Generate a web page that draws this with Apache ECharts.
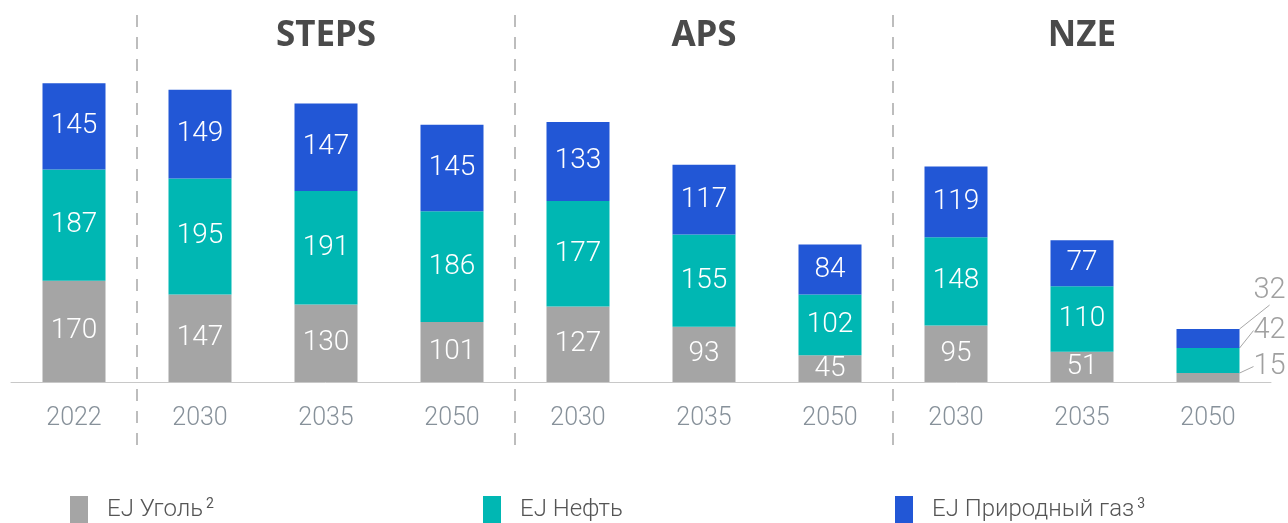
<!DOCTYPE html>
<html>
<head>
<meta charset="utf-8">
<script src="https://cdn.jsdelivr.net/npm/echarts@6/dist/echarts.min.js"></script>
<style>
    html, body { margin: 0; padding: 0; background: #fff; }
    #myChart { width: 1288px; height: 523px; }
</style>
</head>
<body>
<div id="myChart"></div>
<script>
// 数据
var years = ['2022', '2030', '2035', '2050', '2030', '2035', '2050', '2030', '2035', '2050'];
var headers = ['', '', 'STEPS', '', '', 'APS', '', '', 'NZE', '', ''];
var coal = [170, 147, 130, 101, 127, 93, 45, 95, 51, 15];
var oil = [187, 195, 191, 186, 177, 155, 102, 148, 110, 42];
var gas = [145, 149, 147, 145, 133, 117, 84, 119, 77, 32];
var names = ['EJ Уголь', 'EJ Нефть', 'EJ Природный газ'];
var notes = {'EJ Уголь': '2', 'EJ Нефть': '', 'EJ Природный газ': '3'};

var colors = ['#a5a5a5', '#00b7b3', '#2257d6'];
var font = 'Roboto, "Noto Sans", sans-serif';

// 最后一根柱子太矮，标签放到右边
function buildData(arr) {
    return arr.map(function (v, i) {
        if (i === arr.length - 1) {
            return {
                value: v,
                label: {position: 'right', distance: 14, color: '#a0a0a0', fontSize: 29},
                labelLine: {show: true, lineStyle: {color: '#a8a8a8', width: 1}}
            };
        }
        return v;
    });
}

function makeLayout(dy) {
    return function (params) {
        if (params.dataIndex === years.length - 1) {
            return {dy: dy};
        }
        return {};
    };
}

function makeSeries(name, arr, color, dy) {
    return {
        name: name,
        type: 'bar',
        stack: 'total',
        barWidth: 63,
        xAxisIndex: 0,
        yAxisIndex: 0,
        data: buildData(arr),
        itemStyle: {color: color},
        label: {
            show: true,
            position: 'inside',
            color: '#fff',
            fontSize: 28,
            fontFamily: font,
            fontWeight: 300
        },
        labelLayout: makeLayout(dy),
        emphasis: {disabled: true},
        animation: false
    };
}

var myChart = echarts.init(document.getElementById('myChart'));

function legendItem(name, left) {
    return {
        data: [name],
        left: left,
        bottom: -6,
        itemWidth: 18,
        itemHeight: 28,
        icon: 'rect',
        selectedMode: false,
        formatter: function (n) {
            return '{t|' + n + '}' + (notes[n] ? '{s|' + notes[n] + '}' : '');
        },
        textStyle: {
            padding: [0, 0, 0, 14],
            rich: {
                t: {fontSize: 24, color: '#555', fontFamily: font, fontWeight: 300, letterSpacing: 0.8},
                s: {fontSize: 14, color: '#555', fontFamily: font, verticalAlign: 'top', padding: [0, 0, 12, 3]}
            }
        }
    };
}

var option = {
    backgroundColor: '#fff',
    legend: [
        legendItem(names[0], 65),
        legendItem(names[1], 478),
        legendItem(names[2], 890)
    ],
    grid: [{
        left: 11,
        right: 17,
        top: 10,
        bottom: 141,
        outerBoundsMode: 'none'
    }, {  // 分隔线与标题，多一个类目把最右边的线推到画面外
        left: 11,
        width: 1386,
        top: 15,
        bottom: 73,
        outerBoundsMode: 'none'
    }],
    xAxis: [{
        type: 'category',
        data: years,
        gridIndex: 0,
        axisLine: {lineStyle: {color: '#c8c8c8', width: 1}},
        axisTick: {show: false},
        axisLabel: {
            interval: 0,
            margin: 24,
            fontSize: 25,
            color: '#87919a',
            fontFamily: font,
            fontWeight: 300,
            letterSpacing: 1
        }
    }, {
        type: 'category',
        data: headers.map(function (h, i) { return 'c' + i; }),
        gridIndex: 1,
        position: 'top',
        axisLine: {show: false},
        axisTick: {show: false},
        axisLabel: {
            inside: true,
            interval: 0,
            margin: 4,
            fontSize: 35,
            fontWeight: 'bold',
            color: '#4a4a4a',
            fontFamily: '"Noto Sans", Lato, sans-serif',
            formatter: function (v, i) { return headers[i]; }
        },
        splitLine: {
            show: true,
            interval: function (i) { return i === 1 || i === 4 || i === 7; },
            lineStyle: {color: '#bdbdbd', width: 2, type: [12, 10]}
        }
    }],
    yAxis: [{
        type: 'value',
        gridIndex: 0,
        min: 0,
        max: 625,
        show: false
    }, {
        type: 'value',
        gridIndex: 1,
        show: false
    }],
    series: [
        makeSeries(names[0], coal, colors[0], -11),
        makeSeries(names[1], oil, colors[1], -30),
        makeSeries(names[2], gas, colors[2], -48)
    ]
};

myChart.setOption(option);
</script>
</body>
</html>
